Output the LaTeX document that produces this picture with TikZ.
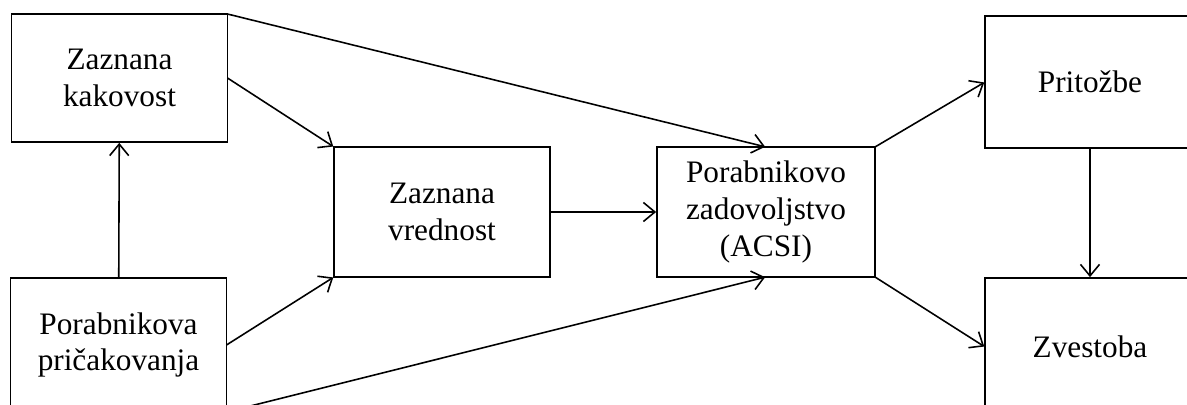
\documentclass[tikz,border=0pt]{standalone}
\usepackage{fontspec}
\setmainfont{Liberation Serif}
\usepackage{tikz}
\usetikzlibrary{arrows,arrows.meta}

\begin{document}
\begin{tikzpicture}[
x=0.02cm, y=-0.02cm,
    B/.style = {rectangle, draw, line width=0.9pt,% boxes of the model
                minimum width=4.32cm, minimum height=2.6cm,
                align=center, outer sep=0pt,
                font=\fontsize{17.8}{21}\selectfont},
    L/.style = {-{Straight Barb[length=2.3mm, width=3.8mm]},% links
                line width=0.9pt, shorten >=0.5pt},
                        ]
\useasboundingbox (0,0) rectangle (1187,405);
\node[B, minimum height=2.56cm] (zk) at (119.5,78) {Zaznana\\ kakovost};
\node[B, minimum height=2.68cm] (pp) at (118.5,345) {Porabnikova\\ pričakovanja};
\node[B] (zv) at (442,212) {Zaznana\\ vrednost};
\node[B, minimum width=4.36cm] (acsi) at (766,212) {Porabnikovo\\ zadovoljstvo\\ (ACSI)};
\node[B, minimum width=4.2cm, minimum height=2.64cm] (pr) at (1090,82) {Pritožbe};
\node[B, minimum width=4.2cm, minimum height=2.76cm] (zs) at (1090,347) {Zvestoba};
\draw[L] (pp) -- (zk);
\draw[L] (zk.east) -- (zv.north west);
\draw[L] (zk.north east) -- (acsi.north);
\draw[L] (pp.east) -- (zv.south west);
\draw[L] (pp.south east) -- (acsi.south);
\draw[L] (zv) -- (acsi);
\draw[L] (acsi.north east) -- (pr.west);
\draw[L] (acsi.south east) -- (zs.west);
\draw[L] (pr) -- (zs);
\end{tikzpicture}
\end{document}
